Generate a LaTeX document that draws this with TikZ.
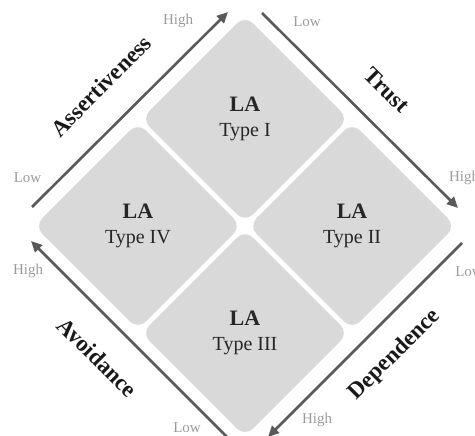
\documentclass[tikz,border=0pt]{standalone}
\usepackage{fontspec}
\setmainfont{Liberation Serif}
\usetikzlibrary{arrows.meta,shapes.geometric}
\definecolor{tilefill}{RGB}{217,217,217}
\definecolor{axisgray}{RGB}{89,89,89}
\definecolor{ticklabel}{RGB}{155,155,155}
\newcommand{\latype}[1]{{\fontsize{22}{26}\selectfont\bfseries LA}\\#1}

\begin{document}
\begin{tikzpicture}[x=1pt,y=-1pt,
  tile/.style={diamond, aspect=1, fill=tilefill, minimum width=207pt,
    minimum height=207pt, inner sep=0pt, rounded corners=11pt, align=center,
    font=\fontsize{20}{25}\selectfont, text=black!85},
  axis/.style={draw=axisgray, line width=2.6pt,
    -{Triangle[length=11pt,width=10pt]}},
  axislabel/.style={font=\fontsize{23}{27}\selectfont\bfseries, text=black!90},
  tick/.style={text=ticklabel, font=\fontsize{15}{18}\selectfont}
]
\useasboundingbox (0,0) rectangle (475,436);

% the four quadrant tiles
\node[tile] (t1) at (245,118.9) {\latype{Type I}};
\node[tile] (t2) at (352.1,226) {\latype{Type II}};
\node[tile] (t3) at (245,333.1) {\latype{Type III}};
\node[tile] (t4) at (137.9,226) {\latype{Type IV}};

% axis arrows along the outer edges
\coordinate (asLow)  at (32,207);  \coordinate (asHigh) at (228,12);
\coordinate (trLow)  at (262,13);  \coordinate (trHigh) at (458,208);
\coordinate (deLow)  at (462,243); \coordinate (deHigh) at (268,437);
\coordinate (avLow)  at (228,438); \coordinate (avHigh) at (31,241);
\draw[axis] (asLow) -- (asHigh);
\draw[axis] (trLow) -- (trHigh);
\draw[axis] (deLow) -- (deHigh);
\draw[axis] (avLow) -- (avHigh);

% axis names
\node[axislabel, rotate=45]  (asName) at (101,86)    {Assertiveness};
\node[axislabel, rotate=-45] (trName) at (387,90)    {Trust};
\node[axislabel, rotate=45]  (deName) at (395,355)   {Dependence};
\node[axislabel, rotate=-45] (avName) at (97.5,357.5) {Avoidance};

% end-point labels
\node[tick] (asL) at (27.5,178) {Low};
\node[tick] (asH) at (178,21)   {High};
\node[tick] (trL) at (307,22)   {Low};
\node[tick] (trH) at (464,178)  {High};
\node[tick] (deL) at (469,272)  {Low};
\node[tick] (deH) at (317,420)  {High};
\node[tick] (avL) at (187,428)  {Low};
\node[tick] (avH) at (28,271)   {High};
\end{tikzpicture}
\end{document}
